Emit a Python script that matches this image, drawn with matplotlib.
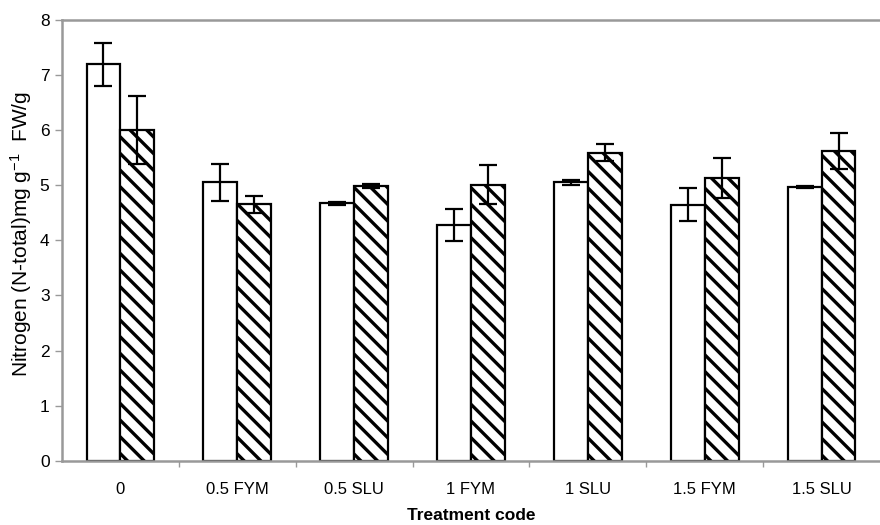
import numpy as np
import matplotlib.pyplot as plt
from matplotlib.ticker import FixedLocator

plt.rcParams['font.family'] = ['Liberation Sans', 'DejaVu Sans']
plt.rcParams['mathtext.default'] = 'regular'
plt.rcParams['hatch.linewidth'] = 2.4

# Data
treatments = ["0", "0.5 FYM", "0.5 SLU", "1 FYM", "1 SLU", "1.5 FYM", "1.5 SLU"]
open_vals = [7.19, 5.05, 4.67, 4.27, 5.05, 4.64, 4.97]
open_err = [0.39, 0.33, 0.03, 0.29, 0.05, 0.30, 0.02]
hatch_vals = [6.00, 4.65, 4.98, 5.01, 5.59, 5.13, 5.62]
hatch_err = [0.61, 0.15, 0.04, 0.36, 0.16, 0.36, 0.33]

fig = plt.figure(figsize=(8.8, 5.25), dpi=100)
ax = fig.add_axes([62 / 880, 1 - 461 / 525, 1 - 62 / 880, (461 - 19.5) / 525])

x = np.arange(len(treatments))
w = 0.29
err_kw = dict(ecolor='black', elinewidth=1.6, capsize=6.5, capthick=1.6)
ax.bar(x - w / 2, open_vals, w, color='white', edgecolor='black', linewidth=1.6,
       yerr=open_err, error_kw=err_kw)
ax.bar(x + w / 2, hatch_vals, w, color='white', edgecolor='black', linewidth=1.6,
       hatch='\\\\', yerr=hatch_err, error_kw=err_kw)

ax.set_xlim(-0.5, len(treatments) - 0.5)
ax.set_ylim(0, 8)
ax.set_yticks(range(0, 9))
ax.set_xticks(x)
ax.set_xticklabels(treatments)
ax.xaxis.set_minor_locator(FixedLocator(np.arange(0.5, len(treatments) - 0.5, 1)))
ax.tick_params(axis='x', which='major', length=0, pad=15, labelsize=12)
ax.tick_params(axis='x', which='minor', length=4, color='#999999', width=1)
ax.tick_params(axis='y', length=5, color='#999999', width=1, labelsize=12.5, pad=4)

for side in ['left', 'bottom', 'top']:
    ax.spines[side].set_color('#999999')
    ax.spines[side].set_linewidth(1.8)
ax.spines['right'].set_visible(False)

ax.set_xlabel("Treatment code", fontsize=12.5, fontweight='bold')
ax.xaxis.set_label_coords(0.5, -0.107)
ax.set_ylabel("Nitrogen (N-total)mg g$^{-1}$  FW/g", fontsize=15)
ax.yaxis.set_label_coords(-0.034, 0.514)

fig.savefig("out.png", dpi=100)
